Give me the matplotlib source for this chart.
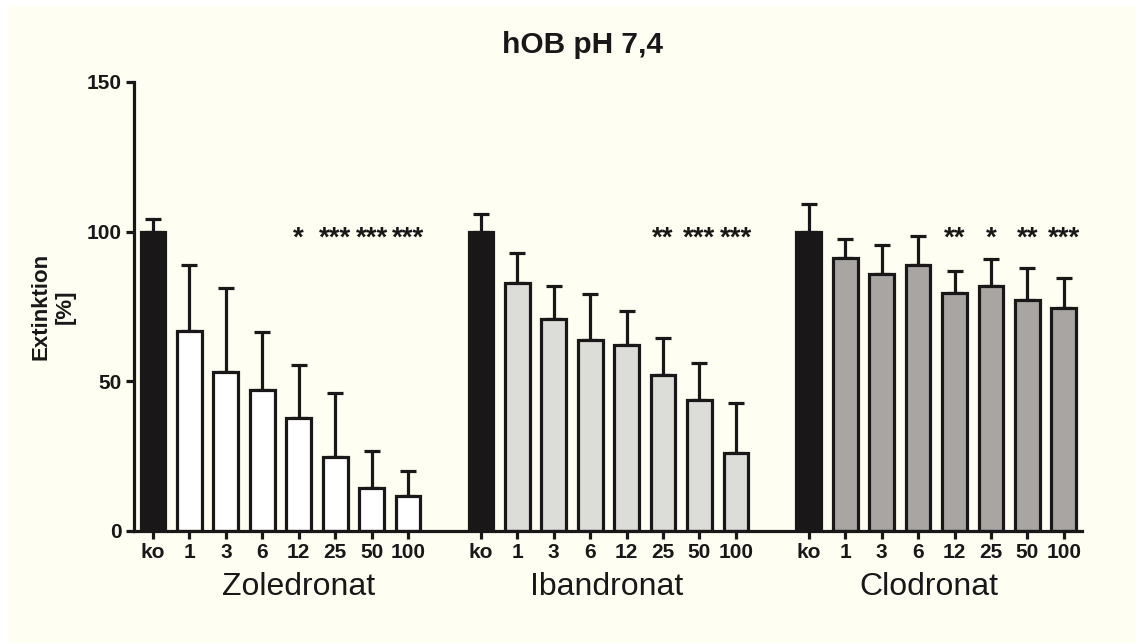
import matplotlib
matplotlib.use("Agg")
import matplotlib.pyplot as plt
from matplotlib.patches import Rectangle
import numpy as np

plt.rcParams['font.family'] = ['Liberation Sans', 'DejaVu Sans']

# data
doses = ['ko', '1', '3', '6', '12', '25', '50', '100']
groups = ['Zoledronat', 'Ibandronat', 'Clodronat']

zol_mean = [100, 66.8, 53.1, 47.1, 37.6, 24.8, 14.5, 11.8]
zol_top = [104.2, 88.9, 81.2, 66.5, 55.5, 46.1, 26.7, 20.0]
iba_mean = [100, 82.7, 70.7, 63.7, 62.1, 52.1, 43.7, 26.0]
iba_top = [105.8, 93.0, 81.9, 79.1, 73.5, 64.6, 56.2, 42.7]
clo_mean = [100, 91.3, 85.9, 88.9, 79.4, 81.8, 77.3, 74.4]
clo_top = [109.1, 97.4, 95.4, 98.6, 86.9, 90.8, 87.8, 84.6]

zol_sig = ['', '', '', '', '*', '***', '***', '***']
iba_sig = ['', '', '', '', '', '**', '***', '***']
clo_sig = ['', '', '', '', '**', '*', '**', '***']

means = [zol_mean, iba_mean, clo_mean]
tops = [zol_top, iba_top, clo_top]
sigs = [zol_sig, iba_sig, clo_sig]
fills = ['#ffffff', '#dcdcd8', '#a9a5a3']
dark = '#1a1718'
bg = '#fefef2'

fig = plt.figure(figsize=(11.36, 6.43), dpi=100, facecolor=bg)
# thin white margin on top and left like the source scan
fig.add_artist(Rectangle((0, 0), 7 / 1136, 1, transform=fig.transFigure,
                         color='white', zorder=0))
fig.add_artist(Rectangle((0, 1 - 5 / 643), 1, 5 / 643, transform=fig.transFigure,
                         color='white', zorder=0))

ax = fig.add_axes([0.118, 0.1742, 0.8345, 0.6983])
ax.set_facecolor(bg)

lw = 2.3
all_x = []
all_lab = []
for g in range(3):
    x = np.arange(len(doses)) + g * 9
    m = np.array(means[g])
    err = np.array(tops[g]) - m
    colors = [dark] + [fills[g]] * (len(doses) - 1)
    ax.errorbar(x, m, yerr=[np.zeros_like(err), err], fmt='none',
                ecolor=dark, elinewidth=lw, capsize=6, capthick=lw, zorder=1)
    ax.bar(x, m, width=0.68, color=colors, edgecolor=dark, linewidth=lw, zorder=2)
    for xi, s in zip(x, sigs[g]):
        if s:
            ax.text(xi, 97.7, s, ha='center', va='center', fontsize=20,
                    fontweight='bold', color=dark)
    all_x.extend(x)
    all_lab.extend(doses)

# group labels
label_x = [4.0, 12.45, 21.3]
for gx, name in zip(label_x, groups):
    ax.text(gx, -0.125, name, transform=ax.get_xaxis_transform(),
            ha='center', va='center', fontsize=23, color=dark)

ax.set_xlim(-0.52, 25.5)
ax.set_ylim(0, 150)
ax.set_yticks([0, 50, 100, 150])
ax.set_xticks(all_x)
ax.set_xticklabels(all_lab)
for lab in ax.get_xticklabels() + ax.get_yticklabels():
    lab.set_fontweight('bold')
    lab.set_fontsize(15)
    lab.set_color(dark)

ax.spines['top'].set_visible(False)
ax.spines['right'].set_visible(False)
for sp in ['left', 'bottom']:
    ax.spines[sp].set_linewidth(lw)
    ax.spines[sp].set_color(dark)
ax.tick_params(axis='both', direction='out', length=6, width=lw, color=dark, pad=3)

ax.set_ylabel('Extinktion\n[%]', fontsize=16, fontweight='bold', color=dark,
              linespacing=1.2)
ax.yaxis.set_label_coords(-0.062, 0.5)

fig.text(583 / 1136, 1 - 45 / 643, 'hOB pH 7,4', ha='center', va='center',
         fontsize=21.5, fontweight='bold', color=dark)

fig.savefig('out.png', dpi=100, facecolor=bg)
